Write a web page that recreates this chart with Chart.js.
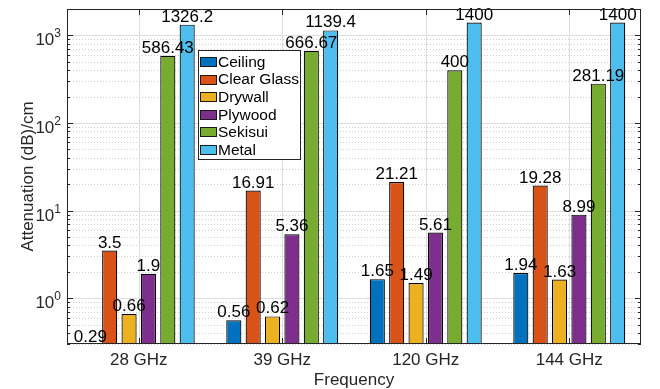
<!DOCTYPE html>
<html>
<head>
<meta charset="utf-8">
<script src="https://cdn.jsdelivr.net/npm/chart.js@4.4.1/dist/chart.umd.min.js"></script>
<style>
    body { margin: 0; background: #fff; }
</style>
</head>
<body>
<canvas id="attChart" width="660" height="389"></canvas>
<script>
const categories = ["28 GHz", "39 GHz", "120 GHz", "144 GHz"];
const materials = ["Ceiling", "Clear Glass", "Drywall", "Plywood", "Sekisui", "Metal"];

const ceiling = [0.29, 0.56, 1.65, 1.94];
const clearGlass = [3.5, 16.91, 21.21, 19.28];
const drywall = [0.66, 0.62, 1.49, 1.63];
const plywood = [1.9, 5.36, 5.61, 8.99];
const sekisui = [586.43, 666.67, 400, 281.19];
const metal = [1326.2, 1139.4, 1400, 1400];

const colors = ["#0072BD", "#D95319", "#EDB120", "#7E2F8E", "#77AC30", "#4DBEEE"];

const yMin = 0.3;
const yMax = 2000;
const yMajorTicks = [1, 10, 100, 1000];
const yExponents = ["0", "1", "2", "3"];

const FONT = "'Liberation Sans', Arial, Helvetica, sans-serif";
const AXIS_COLOR = "#262626";

const series = [ceiling, clearGlass, drywall, plywood, sekisui, metal];

// minor grid values 2..9 x 10^n inside the range
const minorTicks = [];
for (let e = -1; e <= 3; e++) {
    for (let m = 2; m <= 9; m++) {
        const v = m * Math.pow(10, e);
        if (v >= yMin && v <= yMax) minorTicks.push(v);
    }
}

function hLine(ctx, a, py) {
    ctx.beginPath();
    ctx.moveTo(a.left, py);
    ctx.lineTo(a.right, py);
    ctx.stroke();
}

const matlabAxes = {
    id: "matlabAxes",

    beforeDatasetsDraw(chart) {
        const { ctx, chartArea: a, scales: { x, y } } = chart;
        ctx.save();
        ctx.lineWidth = 1;

        ctx.strokeStyle = "#cfcfcf";
        ctx.setLineDash([1, 2]);
        minorTicks.forEach(v => hLine(ctx, a, Math.round(y.getPixelForValue(v)) + 0.5));
        ctx.setLineDash([]);

        ctx.strokeStyle = "#dedede";
        yMajorTicks.forEach(v => hLine(ctx, a, Math.round(y.getPixelForValue(v)) + 0.5));

        categories.forEach((c, i) => {
            const px = Math.round(x.getPixelForValue(i)) + 0.5;
            ctx.beginPath();
            ctx.moveTo(px, a.top);
            ctx.lineTo(px, a.bottom);
            ctx.stroke();
        });
        ctx.restore();
    },

    afterDatasetsDraw(chart) {
        const { ctx } = chart;
        ctx.save();
        ctx.font = "17px " + FONT;
        ctx.fillStyle = "#000";
        ctx.textAlign = "center";
        ctx.textBaseline = "alphabetic";
        chart.data.datasets.forEach((ds, d) => {
            const meta = chart.getDatasetMeta(d);
            meta.data.forEach((bar, i) => {
                ctx.fillText(String(ds.data[i]), bar.x, bar.y - 3);
            });
        });
        ctx.restore();
    },

    afterDraw(chart) {
        const { ctx, chartArea: a, scales: { x, y } } = chart;
        ctx.save();

        // box
        ctx.strokeStyle = AXIS_COLOR;
        ctx.lineWidth = 1;
        ctx.strokeRect(a.left + 0.5, a.top + 0.5, a.right - a.left - 1, a.bottom - a.top - 1);

        // y tick marks, both sides, inward
        const tick = (py, len) => {
            ctx.beginPath();
            ctx.moveTo(a.left, py);
            ctx.lineTo(a.left + len, py);
            ctx.moveTo(a.right, py);
            ctx.lineTo(a.right - len, py);
            ctx.stroke();
        };
        minorTicks.forEach(v => tick(Math.round(y.getPixelForValue(v)) + 0.5, 3));
        yMajorTicks.forEach(v => tick(Math.round(y.getPixelForValue(v)) + 0.5, 6));

        // x tick marks top and bottom
        categories.forEach((c, i) => {
            const px = Math.round(x.getPixelForValue(i)) + 0.5;
            ctx.beginPath();
            ctx.moveTo(px, a.bottom);
            ctx.lineTo(px, a.bottom - 6);
            ctx.moveTo(px, a.top);
            ctx.lineTo(px, a.top + 6);
            ctx.stroke();
        });

        // y tick labels 10^n
        ctx.fillStyle = AXIS_COLOR;
        ctx.textBaseline = "alphabetic";
        yMajorTicks.forEach((v, k) => {
            const py = y.getPixelForValue(v);
            ctx.font = "12px " + FONT;
            const ew = ctx.measureText(yExponents[k]).width;
            ctx.textAlign = "left";
            ctx.fillText(yExponents[k], a.left - 6 - ew, py + 2);
            ctx.font = "17px " + FONT;
            ctx.textAlign = "right";
            ctx.fillText("10", a.left - 6 - ew, py + 10);
        });

        // x tick labels
        ctx.font = "17px " + FONT;
        ctx.textAlign = "center";
        ctx.textBaseline = "alphabetic";
        categories.forEach((c, i) => {
            ctx.fillText(c, x.getPixelForValue(i), a.bottom + 21);
        });

        // axis titles
        ctx.textBaseline = "middle";
        ctx.fillText("Frequency", (a.left + a.right) / 2, 380);
        ctx.save();
        ctx.translate(28, (a.top + a.bottom) / 2);
        ctx.rotate(-Math.PI / 2);
        ctx.fillText("Attenuation (dB)/cm", 0, 0);
        ctx.restore();

        // legend
        const lx = 198, ly = 50, lw = 102, lh = 109;
        ctx.fillStyle = "#fff";
        ctx.fillRect(lx, ly, lw, lh);
        ctx.strokeStyle = "#262626";
        ctx.strokeRect(lx + 0.5, ly + 0.5, lw, lh);
        ctx.font = "15.5px " + FONT;
        ctx.textAlign = "left";
        ctx.textBaseline = "middle";
        chart.data.datasets.forEach((ds, d) => {
            const cy = ly + 11.5 + d * 17.6;
            ctx.fillStyle = ds.backgroundColor;
            ctx.fillRect(lx + 2.5, Math.round(cy - 4.5) + 0.5, 16, 9);
            ctx.strokeStyle = "#1a1a1a";
            ctx.strokeRect(lx + 2.5, Math.round(cy - 4.5) + 0.5, 16, 9);
            ctx.fillStyle = "#000";
            ctx.fillText(ds.label, lx + 20, cy + 1);
        });

        ctx.restore();
    }
};

new Chart(
    document.getElementById("attChart"),
    {
        type: "bar",
        data: {
            labels: categories,
            datasets: materials.map((m, i) => ({
                label: m,
                data: series[i],
                backgroundColor: colors[i],
                borderColor: "#000",
                borderWidth: 1.2,
                categoryPercentage: 0.81,
                barPercentage: 0.78
            }))
        },
        options: {
            responsive: false,
            animation: false,
            layout: {
                padding: { left: 67, top: 9, right: 19, bottom: 45 }
            },
            plugins: {
                legend: { display: false },
                tooltip: { enabled: false }
            },
            scales: {
                x: { display: false },
                y: {
                    type: "logarithmic",
                    display: false,
                    min: yMin,
                    max: yMax
                }
            }
        },
        plugins: [matlabAxes]
    }
);
</script>
</body>
</html>
